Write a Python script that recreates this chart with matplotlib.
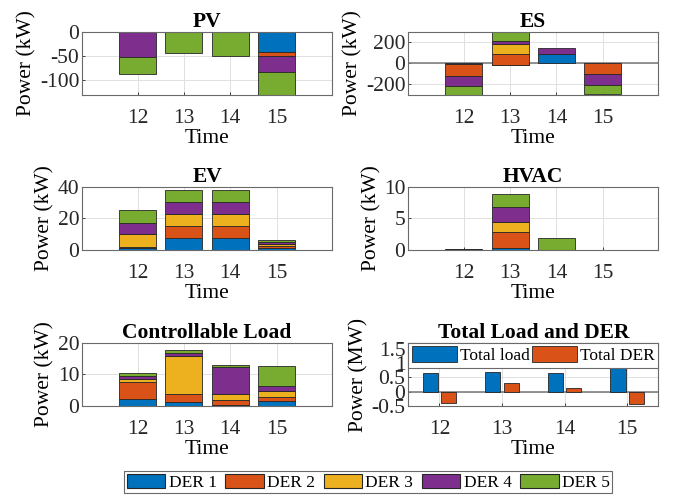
import matplotlib
matplotlib.use("Agg")
import matplotlib.pyplot as plt
from matplotlib.patches import Patch
from matplotlib.ticker import FormatStrFormatter
import numpy as np

plt.rcParams['font.family'] = ['Liberation Serif', 'DejaVu Serif']
plt.rcParams['axes.unicode_minus'] = False

# данные
time = [12, 13, 14, 15]
der_names = ['DER 1', 'DER 2', 'DER 3', 'DER 4', 'DER 5']
colors = ['#0072BD', '#D95319', '#EDB120', '#7E2F8E', '#77AC30']

# строки - DER 1..5, столбцы - время 12..15
pv = [[0, 0, 0, -41],
      [0, 0, 0, -9],
      [0, 0, 0, 0],
      [-53, 0, 0, -33],
      [-35, -43, -50, -60]]
es = [[-4, -12, 89, 0],
      [-112, 101, 0, -101],
      [0, 101, 0, 0],
      [-102, 20, 54, -105],
      [-150, 110, 0, -89]]
ev = [[1.2, 7.5, 7.5, 1.2],
      [1.0, 7.6, 7.6, 1.3],
      [7.8, 7.6, 7.6, 1.3],
      [7.4, 7.7, 7.7, 1.3],
      [8.1, 7.5, 7.5, 1.3]]
hvac = [[0, 0.27, 0, 0],
        [0.1, 2.55, 0, 0],
        [0.05, 1.7, 0, 0],
        [0, 2.3, 0, 0],
        [0, 2.1, 1.9, 0]]
cl = [[2.3, 1.4, 0.4, 1.6],
      [5.4, 2.3, 1.6, 1.4],
      [1.0, 12.2, 1.7, 1.8],
      [0.7, 1.0, 8.8, 1.7],
      [1.2, 0.9, 0.6, 6.3]]
total_load = [0.66, 0.70, 0.65, 0.84]
total_der = [-0.38, 0.30, 0.14, -0.43]

fs = 15.5
edge = '#262626'
spine = '#6a6a6a'

fig = plt.figure(figsize=(6.78, 4.96), dpi=100)

left_x, right_x, w, h = 0.121, 0.602, 0.369, 0.127
rows = [0.8085, 0.496, 0.1815]


def style(ax, title, ylabel, xlim):
    ax.set_title(title, fontsize=fs, fontweight='bold', pad=3)
    ax.set_ylabel(ylabel, fontsize=fs, labelpad=2)
    ax.set_xlabel('Time', fontsize=fs, labelpad=1)
    ax.set_xticks(time)
    ax.set_xlim(xlim)
    ax.tick_params(labelsize=fs, direction='in', length=2, width=0.6,
                   colors='#262626', pad=2)
    ax.tick_params(axis='x', pad=10)
    ax.grid(True, color='#e0e0e0', linewidth=0.7)
    ax.set_axisbelow(True)
    for s in ax.spines.values():
        s.set_color(spine)
        s.set_linewidth(0.8)


def stacked(ax, data):
    bottom_pos = np.zeros(len(time))
    t = np.array(time)
    for i, row in enumerate(data):
        row = np.array(row, dtype=float)
        nz = row != 0
        ax.bar(t[nz], row[nz], width=0.8, bottom=bottom_pos[nz], color=colors[i],
               edgecolor=edge, linewidth=0.6, zorder=2)
        bottom_pos = bottom_pos + row


xl = (10.8, 16.2)

ax = fig.add_axes([left_x, rows[0], w, h])
stacked(ax, pv)
ax.set_ylim(-131, 0)
ax.set_yticks([-100, -50, 0])
style(ax, 'PV', 'Power (kW)', xl)

ax = fig.add_axes([right_x, rows[0], w, h])
stacked(ax, es)
ax.axhline(0, color='#808080', linewidth=1.2, zorder=1)
ax.set_ylim(-300, 300)
ax.set_yticks([-200, 0, 200])
style(ax, 'ES', 'Power (kW)', xl)

ax = fig.add_axes([left_x, rows[1], w, h])
stacked(ax, ev)
ax.set_ylim(0, 40)
ax.set_yticks([0, 20, 40])
style(ax, 'EV', 'Power (kW)', xl)

ax = fig.add_axes([right_x, rows[1], w, h])
stacked(ax, hvac)
ax.set_ylim(0, 10)
ax.set_yticks([0, 5, 10])
style(ax, 'HVAC', 'Power (kW)', xl)

ax = fig.add_axes([left_x, rows[2], w, h])
stacked(ax, cl)
ax.set_ylim(0, 20)
ax.set_yticks([0, 10, 20])
style(ax, 'Controllable Load', 'Power (kW)', xl)

ax = fig.add_axes([right_x, rows[2], w, h])
x = np.array(time)
ax.bar(x - 0.145, total_load, width=0.24, color=colors[0], edgecolor=edge,
       linewidth=0.6, zorder=2, label='Total load')
ax.bar(x + 0.145, total_der, width=0.24, color=colors[1], edgecolor=edge,
       linewidth=0.6, zorder=2, label='Total DER')
ax.axhline(0, color='#808080', linewidth=1.2, zorder=1)
ax.set_ylim(-0.5, 1.7)
ax.set_yticks([-0.5, 0, 0.5, 1, 1.5])
ax.yaxis.set_major_formatter(FormatStrFormatter('%g'))
style(ax, 'Total Load and DER', 'Power (MW)', (11.5, 15.5))
lg = ax.legend(loc='upper left', bbox_to_anchor=(0, 0, 1, 1), mode='expand',
               ncol=2, borderaxespad=0, fontsize=12.5, fancybox=False,
               handlelength=2.6, handleheight=1.0, handletextpad=0.2,
               borderpad=0.2, columnspacing=0.6, framealpha=1)
lg.get_frame().set_edgecolor(spine)
lg.get_frame().set_linewidth(0.8)

handles = [Patch(facecolor=c, edgecolor=edge, linewidth=0.8) for c in colors]
lg = fig.legend(handles, der_names, loc='center', bbox_to_anchor=(0.5435, 0.028),
                ncol=5, fontsize=12.5, fancybox=False, handlelength=2.2,
                handleheight=0.9, handletextpad=0.2, columnspacing=0.5,
                borderpad=0.15, framealpha=1)
lg.get_frame().set_edgecolor(spine)
lg.get_frame().set_linewidth(0.8)

fig.savefig('out.png', dpi=100)
